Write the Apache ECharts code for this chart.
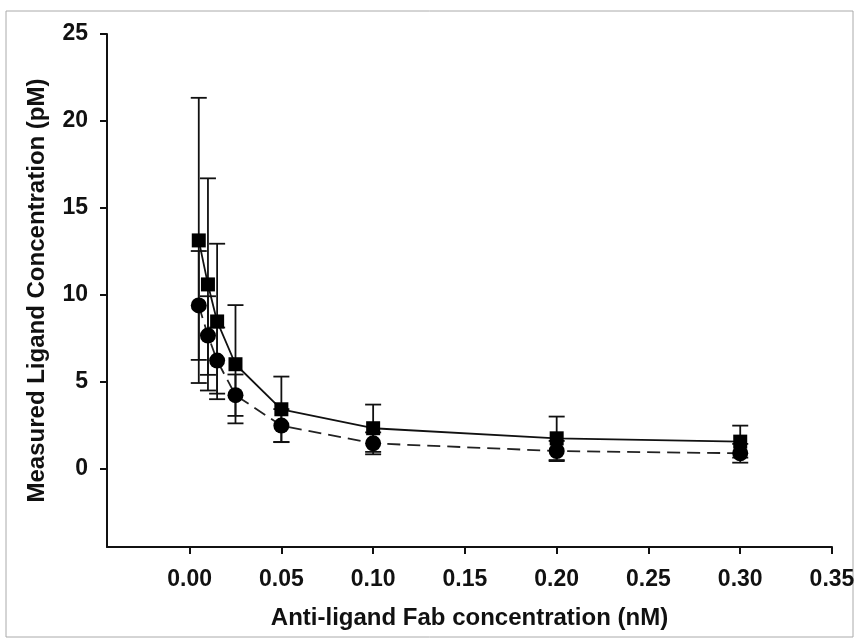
<!DOCTYPE html>
<html>
<head>
<meta charset="utf-8">
<script src="https://cdn.jsdelivr.net/npm/echarts@6/dist/echarts.min.js"></script>
<style>
  html, body { margin: 0; padding: 0; background: #fff; }
  #chart { width: 859px; height: 643px; }
</style>
</head>
<body>
<div id="chart"></div>
<script>
// Anti-ligand Fab concentration (nM)
const fabConc = [0.005, 0.01, 0.015, 0.025, 0.05, 0.1, 0.2, 0.3];

// squares, solid line
const squareMean = [13.13, 10.6, 8.47, 6.01, 3.42, 2.33, 1.75, 1.56];
const squareErr  = [8.2, 6.1, 4.47, 3.4, 1.88, 1.36, 1.25, 0.92];

// circles, dashed line
const circleMean = [9.39, 7.66, 6.22, 4.23, 2.48, 1.46, 1.02, 0.89];
const circleErr  = [3.13, 2.26, 1.9, 1.19, 0.95, 0.63, 0.58, 0.54];

// tick labels
const xTicks = [0, 0.05, 0.10, 0.15, 0.20, 0.25, 0.30, 0.35];
const yTicks = [0, 5, 10, 15, 20, 25];

const font = '"Liberation Sans", Arial, sans-serif';

const chart = echarts.init(document.getElementById('chart'));

// points for line series
const toPoints = (means) => fabConc.map((x, i) => [x, means[i]]);
// [x, low, high] for error bars
const toBars = (means, errs) => fabConc.map((x, i) => [x, means[i] - errs[i], means[i] + errs[i]]);

// draws a vertical error bar with caps at both ends
function renderErrorBar(params, api) {
    const x = api.value(0);
    const lo = api.coord([x, api.value(1)]);
    const hi = api.coord([x, api.value(2)]);
    const hw = 8;
    const style = { stroke: '#111', lineWidth: 1.8, fill: null };
    return {
        type: 'group',
        children: [
            { type: 'line', shape: { x1: hi[0], y1: hi[1], x2: lo[0], y2: lo[1] }, style: style },
            { type: 'line', shape: { x1: hi[0] - hw, y1: hi[1], x2: hi[0] + hw, y2: hi[1] }, style: style },
            { type: 'line', shape: { x1: lo[0] - hw, y1: lo[1], x2: lo[0] + hw, y2: lo[1] }, style: style }
        ]
    };
}

const option = {
    animation: false,
    backgroundColor: '#fff',
    // light grey frame round the figure
    graphic: [{
        type: 'rect',
        shape: { x: 6, y: 11, width: 847, height: 626 },
        style: { fill: null, stroke: '#aaa', lineWidth: 1 },
        silent: true
    }],
    grid: {
        left: 107,
        right: 27,
        top: 34,
        bottom: 96
    },
    xAxis: {
        type: 'value',
        min: -0.045,
        max: 0.35,
        name: 'Anti-ligand Fab concentration (nM)',
        nameLocation: 'middle',
        nameGap: 59,
        nameTextStyle: { fontFamily: font, fontWeight: 'bold', fontSize: 24, color: '#111' },
        axisLine: { onZero: false, lineStyle: { color: '#111', width: 2 } },
        axisTick: { inside: false, length: 7, customValues: xTicks, lineStyle: { color: '#111', width: 2 } },
        axisLabel: {
            customValues: xTicks,
            margin: 21,
            fontFamily: font,
            fontWeight: 'bold',
            fontSize: 23,
            color: '#111',
            formatter: (v) => v.toFixed(2)
        },
        splitLine: { show: false }
    },
    yAxis: {
        type: 'value',
        min: -4.5,
        max: 25,
        name: 'Measured Ligand Concentration (pM)',
        nameLocation: 'middle',
        nameGap: 58,
        nameTextStyle: { fontFamily: font, fontWeight: 'bold', fontSize: 24, color: '#111' },
        axisLine: { show: true, onZero: false, lineStyle: { color: '#111', width: 2 } },
        axisTick: { show: true, inside: false, length: 7, customValues: yTicks, lineStyle: { color: '#111', width: 2 } },
        axisLabel: {
            customValues: yTicks,
            margin: 19,
            fontFamily: font,
            fontWeight: 'bold',
            fontSize: 23,
            color: '#111'
        },
        splitLine: { show: false }
    },
    series: [
        {
            type: 'custom',
            renderItem: renderErrorBar,
            data: toBars(squareMean, squareErr),
            z: 1,
            silent: true
        },
        {
            type: 'custom',
            renderItem: renderErrorBar,
            data: toBars(circleMean, circleErr),
            z: 1,
            silent: true
        },
        {
            type: 'line',
            data: toPoints(circleMean),
            symbol: 'circle',
            symbolSize: 16,
            itemStyle: { color: '#000' },
            lineStyle: { color: '#222', width: 1.8, type: [13, 7] },
            z: 2
        },
        {
            type: 'line',
            data: toPoints(squareMean),
            symbol: 'rect',
            symbolSize: 14,
            itemStyle: { color: '#000' },
            lineStyle: { color: '#111', width: 1.8, type: 'solid' },
            z: 3
        }
    ]
};

chart.setOption(option);
</script>
</body>
</html>
